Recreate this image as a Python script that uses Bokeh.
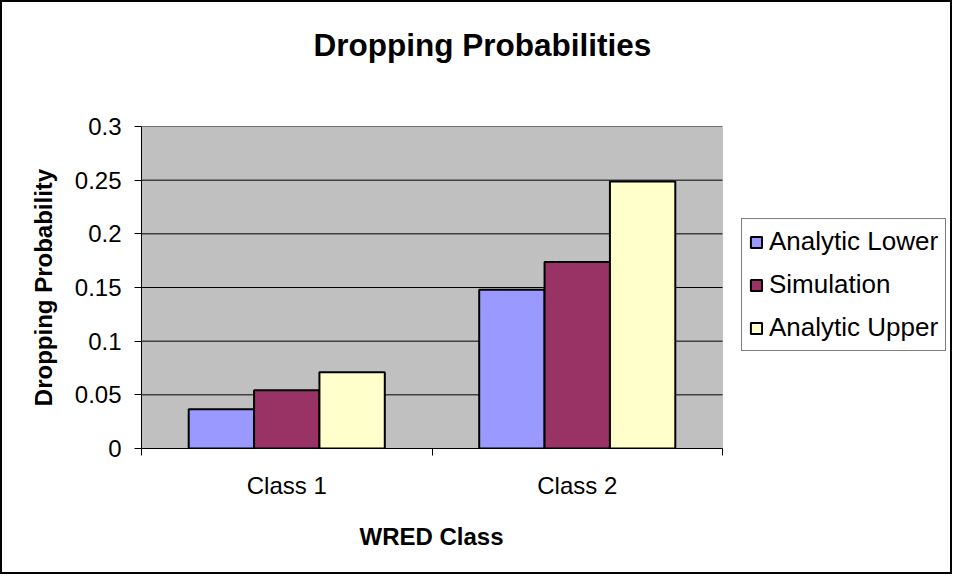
from bokeh.plotting import figure
from bokeh.models import (Range1d, FixedTicker, Title, Legend, LegendItem,
                          BoxAnnotation)
from bokeh.embed import file_html
from bokeh.resources import INLINE

# ---- data ----
categories = ["Class 1", "Class 2"]
series_names = ["Analytic Lower", "Simulation", "Analytic Upper"]
analytic_lower = [0.0366, 0.148]
simulation = [0.0543, 0.1737]
analytic_upper = [0.0711, 0.2487]
y_ticks = [0, 0.05, 0.1, 0.15, 0.2, 0.25, 0.3]
y_tick_labels = ["0", "0.05", "0.1", "0.15", "0.2", "0.25", "0.3"]
x_title = "WRED Class"
y_title = "Dropping Probability"
chart_title = "Dropping Probabilities"

colors = ["#9999FF", "#993366", "#FFFFCC"]
offsets = [-0.225, 0.0, 0.225]
bar_w = 0.225
FONT = "Liberation Sans"

# layout (pixels)
W, H = 952, 574
LEFT, RIGHT, TOP, BOTTOM = 139, 4, 124, 128
PLOT_W = 581            # width of the grey plot area
frame_w = W - LEFT - RIGHT
n = len(categories)
x_end = n * frame_w / PLOT_W

p = figure(width=W, height=H, output_backend="svg", toolbar_location=None,
           x_range=Range1d(0, x_end), y_range=Range1d(y_ticks[0], y_ticks[-1]),
           min_border_left=LEFT, min_border_right=RIGHT, min_border_top=TOP,
           min_border_bottom=BOTTOM,
           styles={"border": "2px solid #000000"})

p.background_fill_color = "white"
p.border_fill_color = "white"
p.outline_line_color = None

# grey plot area
area = BoxAnnotation(left=0, right=n, fill_color="#C0C0C0", fill_alpha=1,
                     line_color="#808080", line_width=1, level="image")
p.add_layout(area)

# horizontal gridlines limited to the plot area
p.segment(x0=[0] * len(y_ticks), x1=[n] * len(y_ticks), y0=y_ticks, y1=y_ticks,
          line_color="black", line_width=1, level="underlay")

items = []
for vals, name, col, off in zip([analytic_lower, simulation, analytic_upper],
                                series_names, colors, offsets):
    xs = [i + 0.5 + off for i in range(n)]
    r = p.vbar(x=xs, top=vals, width=bar_w, fill_color=col, line_color="black",
               line_width=2)
    items.append(LegendItem(label=name, renderers=[r]))

# chart title (spacer first, nearest the frame)
spacer = Title(text=" ", text_font_size="1px", standoff=56)
p.add_layout(spacer, "above")
t = Title(text=chart_title, text_font=FONT, text_font_size="31.5px",
          text_font_style="bold", text_color="black", align="left", offset=172,
          standoff=10)
p.add_layout(t, "above")

# y axis
yax = p.yaxis[0]
yax.ticker = FixedTicker(ticks=y_ticks, minor_ticks=[])
yax.major_label_overrides = {v: s for v, s in zip(y_ticks, y_tick_labels)}
yax.major_label_text_font = FONT
yax.major_label_text_font_size = "24px"
yax.major_label_text_color = "black"
yax.major_tick_out = 7
yax.major_tick_in = 0
yax.major_tick_line_color = "black"
yax.minor_tick_line_color = None
yax.axis_line_color = "black"
yax.major_label_standoff = 13
yax.axis_label = y_title
yax.axis_label_text_font = FONT
yax.axis_label_text_font_size = "24px"
yax.axis_label_text_font_style = "bold"
yax.axis_label_text_color = "black"
yax.axis_label_standoff = 15

# x axis
xax = p.xaxis[0]
cat_centers = [i + 0.5 for i in range(n)]
xax.ticker = FixedTicker(ticks=cat_centers, minor_ticks=list(range(n + 1)))
xax.bounds = (0, n)
xax.major_label_overrides = {v: s for v, s in zip(cat_centers, categories)}
xax.major_label_text_font = FONT
xax.major_label_text_font_size = "24px"
xax.major_label_text_color = "black"
xax.major_tick_line_color = None
xax.major_tick_out = 0
xax.major_tick_in = 0
xax.minor_tick_line_color = "black"
xax.minor_tick_out = 7
xax.minor_tick_in = 0
xax.axis_line_color = "black"
xax.major_label_standoff = 16

# x axis title, centred under the grey plot area
xt = Title(text=x_title, text_font=FONT, text_font_size="24px",
           text_font_style="bold", text_color="black", align="left",
           offset=218, standoff=38)
p.add_layout(xt, "below")

# no built-in grids (drawn above, limited to plot area)
p.xgrid.grid_line_color = None
p.ygrid.grid_line_color = None

# legend
lg = Legend(items=items, location=(600, 97))
lg.border_line_color = "black"
lg.border_line_width = 1
lg.background_fill_color = "white"
lg.background_fill_alpha = 1
lg.label_text_font = FONT
lg.label_text_font_size = "26px"
lg.label_text_color = "black"
lg.glyph_width = 14
lg.glyph_height = 14
lg.label_height = 30
lg.label_standoff = 6
lg.spacing = 12
lg.padding = 7
lg.margin = 0
p.add_layout(lg, "center")

open("out.html", "w").write(file_html(p, INLINE))
